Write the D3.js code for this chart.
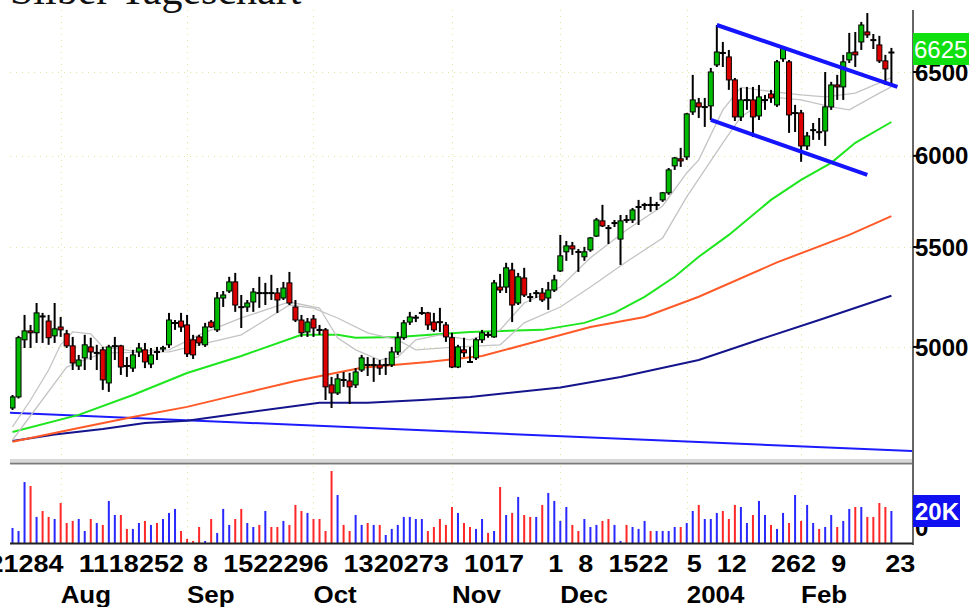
<!DOCTYPE html>
<html>
<head>
<meta charset="utf-8">
<script src="https://cdn.jsdelivr.net/npm/d3@7"></script>
<style>
  body { margin: 0; background: #fff; }
  svg { display: block; font-family: "Liberation Sans", Arial, sans-serif; }
</style>
</head>
<body>
<div id="chart"></div>
<script>
// Silber Tageschart, daily candles Jul 2003 - Feb 2004

const width = 969
const height = 607

// trading days, month by month
const tradingDays = [
  ['2003-07', [25, 28, 29, 30, 31]],
  ['2003-08', [1, 4, 5, 6, 7, 8, 11, 12, 13, 14, 15, 18, 19, 20, 21, 22, 25, 26, 27, 28, 29]],
  ['2003-09', [2, 3, 4, 5, 8, 9, 10, 11, 12, 15, 16, 17, 18, 19, 22, 23, 24, 25, 26, 29, 30]],
  ['2003-10', [1, 2, 3, 6, 7, 8, 9, 10, 13, 14, 15, 16, 17, 20, 21, 22, 23, 24, 27, 28, 29, 30, 31]],
  ['2003-11', [3, 4, 5, 6, 7, 10, 11, 12, 13, 14, 17, 18, 19, 20, 21, 24, 25, 26, 28]],
  ['2003-12', [1, 2, 3, 4, 5, 8, 9, 10, 11, 12, 15, 16, 17, 18, 19, 22, 23, 24, 26, 29, 30, 31]],
  ['2004-01', [2, 5, 6, 7, 8, 9, 12, 13, 14, 15, 16, 20, 21, 22, 23, 26, 27, 28, 29, 30]],
  ['2004-02', [2, 3, 4, 5, 6, 9, 10, 11, 12, 13, 17, 18, 19, 20, 23, 24]]
]

const opens = [4717, 4767, 5034, 5077, 5068, 5150, 5125, 5053, 5096, 5063,
  5005, 4910, 4948, 5000, 4972, 4986, 4831, 5002, 5005, 4912,
  4900, 4976, 4986, 4919, 4978, 4990, 5010, 5115, 5125, 5106,
  5034, 5048, 5010, 5120, 5082, 5239, 5274, 5320, 5196, 5194,
  5219, 5266, 5262, 5266, 5264, 5239, 5315, 5194, 5130, 5072,
  5135, 5084, 5082, 4822, 4785, 4847, 4840, 4822, 4891, 4917,
  4913, 4915, 4913, 4915, 4976, 5044, 5120, 5140, 5163, 5165,
  5120, 5122, 5106, 5044, 4905, 4986, 4931, 4948, 5034, 5060,
  5048, 5294, 5294, 5381, 5214, 5340, 5246, 5262, 5264, 5239,
  5279, 5376, 5475, 5506, 5477, 5449, 5485, 5558, 5639, 5603,
  5626, 5542, 5646, 5644, 5713, 5724, 5728, 5724, 5753, 5792,
  5943, 5983, 5994, 6257, 6311, 6285, 6293, 6544, 6622, 6594,
  6451, 6227, 6327, 6329, 6233, 6327, 6365, 6299, 6582, 6563,
  6249, 6251, 6057, 6148, 6140, 6144, 6287, 6420, 6408, 6575,
  6625, 6689, 6753, 6704, 6670, 6569, 6620]

const highs = [4776, 5053, 5155, 5106, 5214, 5165, 5155, 5214, 5145, 5082,
  5048, 4962, 5058, 5044, 5010, 5000, 5010, 5048, 5010, 4952,
  4986, 5019, 5019, 4995, 5000, 5005, 5165, 5130, 5165, 5155,
  5058, 5058, 5116, 5130, 5269, 5274, 5346, 5366, 5254, 5229,
  5289, 5346, 5315, 5356, 5289, 5320, 5371, 5229, 5155, 5140,
  5155, 5106, 5091, 4859, 4873, 4882, 4878, 4900, 4962, 4952,
  4948, 4938, 4948, 5000, 5072, 5130, 5170, 5155, 5194, 5170,
  5165, 5190, 5120, 5068, 5010, 5044, 5000, 5044, 5082, 5072,
  5330, 5361, 5418, 5418, 5366, 5392, 5264, 5279, 5289, 5320,
  5356, 5564, 5532, 5527, 5490, 5501, 5553, 5655, 5726, 5617,
  5644, 5671, 5671, 5709, 5753, 5737, 5770, 5742, 5797, 5931,
  5994, 6046, 6251, 6482, 6341, 6341, 6525, 6798, 6689, 6638,
  6463, 6402, 6408, 6408, 6420, 6359, 6390, 6575, 6657, 6575,
  6299, 6269, 6138, 6191, 6221, 6500, 6439, 6482, 6607, 6747,
  6753, 6818, 6876, 6740, 6728, 6607, 6651]

const lows = [4708, 4760, 4995, 4995, 5019, 5019, 5010, 5019, 5048, 4995,
  4891, 4891, 4891, 4938, 4891, 4799, 4790, 4938, 4868, 4859,
  4882, 4952, 4900, 4900, 4938, 4976, 4995, 5082, 5072, 4952,
  4943, 5005, 5000, 5091, 5072, 5194, 5264, 5170, 5091, 5170,
  5170, 5190, 5204, 5229, 5165, 5229, 5204, 5120, 5048, 5048,
  5048, 5058, 4753, 4717, 4776, 4813, 4735, 4808, 4882, 4863,
  4836, 4868, 4868, 4905, 4962, 5034, 5106, 5120, 5155, 5082,
  5072, 5072, 5024, 4900, 4900, 4952, 4924, 4938, 5019, 5044,
  5044, 5264, 5264, 5120, 5204, 5244, 5219, 5239, 5219, 5180,
  5269, 5371, 5428, 5459, 5371, 5428, 5475, 5553, 5606, 5516,
  5606, 5407, 5628, 5628, 5617, 5698, 5688, 5698, 5742, 5781,
  5920, 5937, 5977, 6239, 6221, 6168, 6209, 6531, 6531, 6390,
  6203, 6203, 6269, 6109, 6209, 6269, 6311, 6287, 6563, 6133,
  6138, 5966, 6034, 6092, 6092, 6057, 6269, 6329, 6329, 6556,
  6531, 6638, 6715, 6644, 6556, 6420, 6420]

const closes = [4767, 5044, 5077, 5068, 5165, 5148, 5044, 5087, 5082, 5005,
  4924, 4938, 5010, 4976, 4974, 4845, 5000, 5006, 4905, 4908,
  4962, 4995, 4929, 4962, 4974, 4996, 5130, 5118, 5096, 4967,
  4962, 5019, 5096, 5096, 5239, 5254, 5320, 5204, 5192, 5214,
  5269, 5262, 5266, 5262, 5229, 5289, 5214, 5130, 5068, 5120,
  5091, 5080, 4813, 4785, 4850, 4843, 4813, 4882, 4948, 4913,
  4917, 4900, 4917, 4976, 5044, 5116, 5145, 5144, 5167, 5106,
  5082, 5118, 5048, 4905, 5000, 4972, 4927, 5034, 5068, 5056,
  5315, 5279, 5392, 5204, 5346, 5254, 5242, 5266, 5229, 5279,
  5330, 5454, 5506, 5490, 5473, 5475, 5548, 5644, 5612, 5599,
  5630, 5639, 5642, 5698, 5717, 5728, 5724, 5728, 5792, 5920,
  5988, 5971, 6245, 6329, 6287, 6289, 6500, 6625, 6618, 6451,
  6227, 6329, 6331, 6227, 6347, 6331, 6341, 6563, 6651, 6239,
  6253, 6057, 6115, 6152, 6136, 6287, 6420, 6408, 6563, 6620,
  6607, 6798, 6734, 6700, 6569, 6519, 6625]

const volumes = [9400, 7500, 38100, 35600, 16300, 20000, 16300, 15000, 25000, 12500,
  13800, 15000, 7500, 15000, 12500, 11300, 26300, 17500, 17500, 8800,
  8800, 12500, 13800, 11300, 12500, 15000, 18800, 21300, 7500, 2500,
  1300, 10000, 1300, 15000, 6300, 21300, 11300, 15000, 21300, 12500,
  10000, 11300, 20000, 10000, 10000, 13800, 11300, 23800, 20000, 18800,
  15000, 15000, 7500, 45000, 30000, 11300, 7500, 17500, 11300, 12500,
  11300, 11300, 5000, 8800, 11300, 16300, 16300, 15000, 15000, 7500,
  10000, 15000, 11300, 22500, 18800, 12500, 10000, 8800, 15000, 6300,
  7500, 35000, 17500, 18800, 28800, 17500, 16300, 16300, 23800, 31300,
  26300, 13800, 22500, 11300, 7500, 15000, 10000, 11300, 13800, 15000,
  11300, 1300, 11300, 10000, 8800, 13800, 7500, 7500, 7500, 7500,
  10000, 10000, 12500, 20000, 23800, 15000, 15000, 18800, 20000, 15000,
  23800, 22500, 12500, 17500, 26300, 17500, 11300, 8800, 18800, 12500,
  30000, 13800, 23800, 12500, 8800, 10000, 17500, 10000, 13800, 21300,
  22500, 22500, 16300, 16300, 25000, 22500, 20000]

// moving averages: [bar number, price]
const maFast = [[0, 4633], [3, 4753], [6, 4891], [8, 5010], [10, 5072], [13, 5063], [15, 5000],
  [20, 4981], [26, 4986], [31, 5058], [38, 5140], [46, 5219], [51, 5189], [54, 5044], [57, 4986],
  [61, 4938], [64, 4952], [67, 5034], [71, 5058], [76, 5034], [81, 5082], [85, 5214], [91, 5294],
  [96, 5444], [102, 5590], [108, 5720], [112, 5903], [114, 5977], [118, 6269], [121, 6405],
  [126, 6380], [131, 6359], [135, 6347], [140, 6370], [144, 6433], [146, 6466]]
const maSlow = [[0, 4575], [9, 4905], [15, 4972], [26, 4976], [38, 5058], [46, 5204], [50, 5189],
  [54, 5140], [59, 5068], [64, 5034], [67, 4986], [74, 5000], [81, 5010], [85, 5116], [91, 5194],
  [96, 5294], [102, 5423], [108, 5548], [112, 5770], [118, 6075], [121, 6227], [126, 6347],
  [131, 6329], [136, 6287], [139, 6269], [144, 6370], [146, 6408]]
const maGreen = [[0, 4610], [11, 4686], [20, 4776], [29, 4877], [38, 4957], [48, 5058], [54, 5058],
  [57, 5044], [64, 5048], [76, 5072], [88, 5082], [95, 5116], [100, 5165], [105, 5245], [110, 5346],
  [114, 5449], [119, 5564], [126, 5753], [131, 5864], [136, 5960], [140, 6075], [146, 6197]]
const maOrange = [[0, 4567], [11, 4628], [20, 4677], [29, 4722], [38, 4781], [47, 4840], [58, 4902],
  [69, 4929], [78, 4957], [85, 5010], [96, 5096], [105, 5145], [114, 5245], [127, 5420],
  [139, 5564], [146, 5665]]
const maNavy = [[0, 4571], [7, 4599], [15, 4623], [22, 4650], [29, 4660], [38, 4693], [51, 4741],
  [59, 4741], [68, 4753], [76, 4767], [91, 4810], [101, 4859], [114, 4938], [124, 5034],
  [134, 5130], [146, 5250]]

// trend lines drawn on the chart: two anchor points each
const trendLong = [[0, 4695], [146, 4531]]
const channelTop = [[117, 6798], [147, 6408]]
const channelBottom = [[116, 6209], [142, 5892]]

const priceTicks = [5000, 5500, 6000, 6500]
const lastPrice = 6625
const volTick = 20000

const dayTicks = [['21', '2003-07-21'], ['28', '2003-07-28'], ['4', '2003-08-04'], ['11', '2003-08-11'],
  ['18', '2003-08-18'], ['25', '2003-08-25'], ['2', '2003-09-02'], ['8', '2003-09-08'],
  ['15', '2003-09-15'], ['22', '2003-09-22'], ['29', '2003-09-29'], ['6', '2003-10-06'],
  ['13', '2003-10-13'], ['20', '2003-10-20'], ['27', '2003-10-27'], ['3', '2003-11-03'],
  ['10', '2003-11-10'], ['17', '2003-11-17'], ['1', '2003-12-01'], ['8', '2003-12-08'],
  ['15', '2003-12-15'], ['22', '2003-12-22'], ['5', '2004-01-05'], ['12', '2004-01-12'],
  ['26', '2004-01-26'], ['2', '2004-02-02'], ['9', '2004-02-09'], ['23', '2004-02-23']]
const monthTicks = [['Aug', '2003-08-06'], ['Sep', '2003-09-05'], ['Oct', '2003-10-06'],
  ['Nov', '2003-11-06'], ['Dec', '2003-12-03'], ['2004', '2004-01-05'], ['Feb', '2004-02-02']]

const dates = tradingDays.flatMap(([m, ds]) => ds.map(d => m + '-' + String(d).padStart(2, '0')))

// bar number of a date, counting weekdays back for dates before the first bar
const dayIndex = function (d) {
  const i = dates.indexOf(d)
  if (i >= 0) return i
  let n = 0
  const end = new Date(dates[0] + 'T00:00:00Z')
  for (let t = new Date(d + 'T00:00:00Z'); t < end; t.setUTCDate(t.getUTCDate() + 1)) {
    if (t.getUTCDay() % 6 !== 0) n++
  }
  return -n
}

// layout
const left = 10
const right = 912
const priceTop = 10
const priceBottom = 460
const volBottom = 543

const x = d3.scaleLinear().domain([0, dates.length - 1]).range([12.5, 891.4])
const y = d3.scaleLog().domain([4480, 6896]).range([462, 10])
const vy = d3.scaleLinear().domain([0, volTick]).range([volBottom, 511])

const svg = d3.select('#chart').append('svg')
  .attr('width', width)
  .attr('height', height)

svg.append('rect').attr('width', width).attr('height', height).attr('fill', '#fff')

const defs = svg.append('defs')
defs.append('clipPath').attr('id', 'price-clip')
  .append('rect').attr('x', left).attr('y', 0).attr('width', right - left).attr('height', priceBottom)

// title, cut off at the top like the original
svg.append('text')
  .attr('x', 10)
  .attr('y', 4)
  .attr('font-family', '"Liberation Serif", "Times New Roman", serif')
  .attr('font-size', 42)
  .attr('fill', '#111')
  .text('Silber Tageschart')

// faint dotted grid
const grid = svg.append('g').attr('stroke', '#e4e49a').attr('stroke-width', 1).attr('stroke-dasharray', '1,5')
monthTicks.forEach(([, d]) => {
  const gx = Math.round(x(dayIndex(d))) + 0.5
  grid.append('line').attr('x1', gx).attr('x2', gx).attr('y1', priceTop).attr('y2', volBottom)
})
priceTicks.forEach(p => {
  const gy = Math.round(y(p)) + 0.5
  grid.append('line').attr('x1', left).attr('x2', right).attr('y1', gy).attr('y2', gy)
})

const plot = svg.append('g').attr('clip-path', 'url(#price-clip)')

// straight line through two anchors, stretched over the whole plot width
const extended = function (pts) {
  const [p, q] = pts.map(d => [x(d[0]), y(d[1])])
  const k = (q[1] - p[1]) / (q[0] - p[0])
  return [[left, p[1] + k * (left - p[0])], [right, p[1] + k * (right - p[0])]]
}

plot.append('path')
  .attr('d', d3.line()(extended(trendLong)))
  .attr('fill', 'none').attr('stroke', '#1c1cff').attr('stroke-width', 2)

const maLine = d3.line().x(d => x(d[0])).y(d => y(d[1]))
const drawMA = function (data, color, w) {
  plot.append('path')
    .attr('d', maLine(data))
    .attr('fill', 'none')
    .attr('stroke', color)
    .attr('stroke-width', w)
}
drawMA(maNavy, '#14148c', 2)
drawMA(maOrange, '#ff5a28', 2)
drawMA(maGreen, '#1ee61e', 2)
drawMA(maSlow, '#c4c4c4', 1.3)
drawMA(maFast, '#c4c4c4', 1.3)

// candles
const candles = dates.map((d, i) => ({ i, o: opens[i], h: highs[i], l: lows[i], c: closes[i], v: volumes[i] }))

plot.selectAll('.wick').data(candles).join('line')
  .attr('class', 'wick')
  .attr('x1', d => x(d.i)).attr('x2', d => x(d.i))
  .attr('y1', d => y(d.h)).attr('y2', d => y(d.l))
  .attr('stroke', '#000').attr('stroke-width', 2)

plot.selectAll('.body').data(candles).join('rect')
  .attr('class', 'body')
  .attr('x', d => x(d.i) - 2.5)
  .attr('width', 5)
  .attr('y', d => y(Math.max(d.o, d.c)))
  .attr('height', d => Math.max(1, Math.abs(y(d.o) - y(d.c))))
  .attr('fill', d => d.c >= d.o ? '#00bc00' : '#dc0000')
  .attr('stroke', '#000').attr('stroke-width', 1)

// channel lines
const channel = d3.line().x(d => x(d[0])).y(d => y(d[1]))
;[channelTop, channelBottom].forEach(c => {
  plot.append('path')
    .attr('d', channel(c))
    .attr('fill', 'none').attr('stroke', '#1414ff').attr('stroke-width', 4)
})

// separator between price and volume panels
svg.append('rect').attr('x', left).attr('y', 459).attr('width', right - left).attr('height', 6).attr('fill', '#d8d8d8')
svg.append('line').attr('x1', left).attr('x2', right).attr('y1', 463.5).attr('y2', 463.5).attr('stroke', '#7a7a7a').attr('stroke-width', 1.5)

// volume
svg.append('g').selectAll('rect').data(candles).join('rect')
  .attr('x', d => x(d.i) - 1)
  .attr('width', 2)
  .attr('y', d => vy(d.v))
  .attr('height', d => volBottom - vy(d.v))
  .attr('fill', d => d.c >= d.o ? '#2828ff' : '#ff2828')

svg.append('line').attr('x1', left).attr('x2', right + 1).attr('y1', volBottom + 0.5).attr('y2', volBottom + 0.5)
  .attr('stroke', '#222').attr('stroke-width', 2)

// right axis
svg.append('line').attr('x1', right + 1).attr('x2', right + 1).attr('y1', priceTop).attr('y2', 545)
  .attr('stroke', '#333').attr('stroke-width', 1.5)

const axisFont = 24
priceTicks.forEach(p => {
  svg.append('line').attr('x1', right + 1).attr('x2', right + 5).attr('y1', y(p)).attr('y2', y(p))
    .attr('stroke', '#000').attr('stroke-width', 2)
  svg.append('text')
    .attr('x', right + 3).attr('y', y(p)).attr('dy', '0.36em')
    .attr('font-size', axisFont).attr('font-weight', 'bold').attr('fill', '#000')
    .text(p)
})

// last price marker
svg.append('rect').attr('x', right + 1).attr('y', y(lastPrice) - 19).attr('width', 56).attr('height', 32).attr('fill', '#10e010')
svg.append('text')
  .attr('x', right + 2).attr('y', y(lastPrice) - 3).attr('dy', '0.36em')
  .attr('font-size', axisFont).attr('fill', '#fff')
  .text(lastPrice)

// volume axis
svg.append('text')
  .attr('x', right + 3).attr('y', 536)
  .attr('font-size', axisFont).attr('font-weight', 'bold').attr('fill', '#000')
  .text('0')
svg.append('rect').attr('x', right + 1).attr('y', vy(volTick) - 16).attr('width', 47).attr('height', 32).attr('fill', '#1010f0')
svg.append('text')
  .attr('x', right + 3).attr('y', vy(volTick)).attr('dy', '0.36em')
  .attr('font-size', axisFont).attr('font-weight', 'bold').attr('fill', '#fff')
  .text('20K')

// date labels: wide bold digits, left edge on the bar
const digitWidth = 15
const dateAxis = svg.append('g')
  .attr('font-size', 24).attr('font-weight', 'bold').attr('fill', '#000')
dayTicks.forEach(([label, d]) => {
  dateAxis.append('text')
    .attr('x', x(dayIndex(d))).attr('y', 572)
    .attr('textLength', label.length * digitWidth)
    .attr('lengthAdjust', 'spacingAndGlyphs')
    .text(label)
})
monthTicks.forEach(([label, d]) => {
  const t = dateAxis.append('text').attr('x', x(dayIndex(d))).attr('y', 603).text(label)
  t.attr('textLength', t.node().getComputedTextLength() * 1.08).attr('lengthAdjust', 'spacingAndGlyphs')
})
</script>
</body>
</html>
